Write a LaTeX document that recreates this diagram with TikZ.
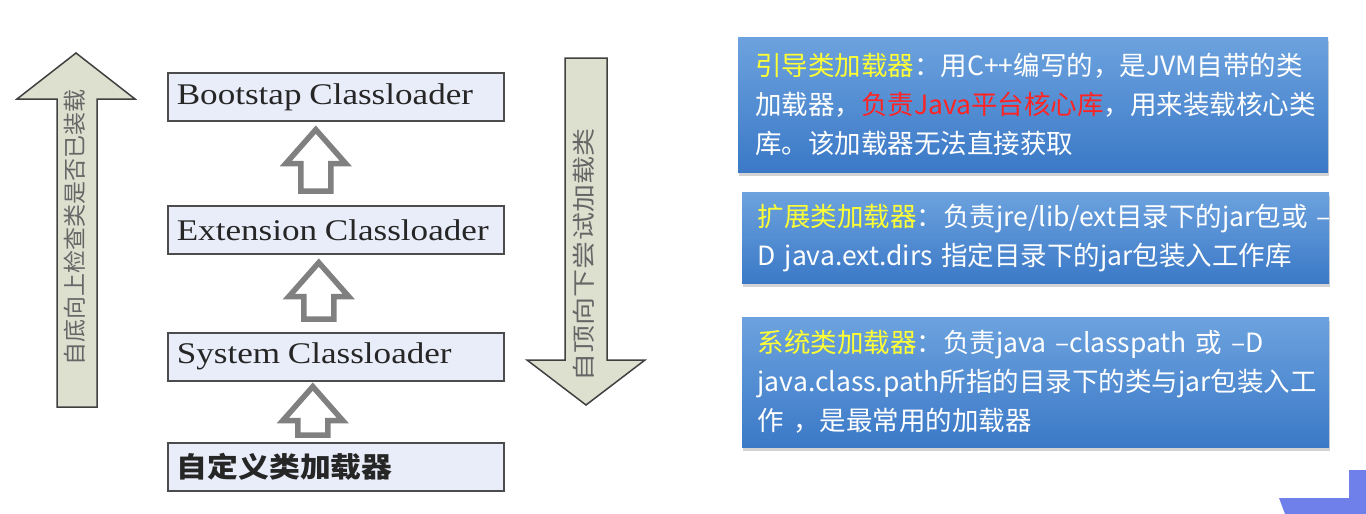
\documentclass[tikz,border=0pt]{standalone}
\usepackage{fontspec}
\setmainfont{Liberation Serif}
\newfontfamily\cjk{Noto Sans CJK SC}
\usetikzlibrary{calc,shadows}

\definecolor{olivefill}{HTML}{DDE0CF}
\definecolor{boxfill}{HTML}{E9EDF9}
\definecolor{blueTop}{HTML}{6CA2DE}
\definecolor{blueBot}{HTML}{3B79C7}
\definecolor{headYellow}{HTML}{FFFF33}
\definecolor{hotRed}{HTML}{FF2424}
\definecolor{cornerBlue}{HTML}{6F80EA}

\tikzset{
  loader/.style={draw=black!70, line width=1.6pt, fill=boxfill, anchor=north west,
    minimum width=336pt, minimum height=48pt, inner xsep=8pt, inner ysep=0pt,
    text width=318pt, align=left, text=black!85},
  hollow/.style={draw=gray, line width=5.5pt, fill=white, line join=miter},
  bigarrow/.style={draw=black!75, line width=1.5pt, fill=olivefill},
  sidetext/.style={font=\cjk\fontsize{23}{23}\selectfont, text=black!60, rotate=90},
  infobox/.style={top color=blueTop, bottom color=blueBot, anchor=north west,
    drop shadow={shadow xshift=1pt, shadow yshift=-4pt, opacity=0.35},
    minimum width=590pt, inner xsep=17pt, inner ysep=0pt, text width=556pt,
    align=left, text=white, font=\cjk\fontsize{26.5}{39}\selectfont}
}

% hollow arrow from the lower box up to the upper box
\newcommand{\loadarrow}[5]{%
  \draw[hollow] let \p1=($(#1.north)+(#3,0)$), \p2=(#2.south) in
    (\x1-15pt,\y1+#4) -- (\x1-15pt,\y2-#5-34pt) -- (\x1-30pt,\y2-#5-34pt)
    -- (\x1,\y2-#5) -- (\x1+30pt,\y2-#5-34pt) -- (\x1+15pt,\y2-#5-34pt)
    -- (\x1+15pt,\y1+#4) -- cycle;
}
\newcommand{\serifname}[2]{\fontsize{30}{30}\selectfont\scalebox{1.17}[1]{#1\hspace{0.22em}#2}}

\begin{document}
\begin{tikzpicture}[x=1pt,y=-1pt]
  \useasboundingbox (0,0) rectangle (1366,514);

  % left arrow: bottom to top
  \draw[bigarrow] (57,407) -- (57,99) -- (17,99) -- (76,53) -- (135,99)
    -- (97,99) -- (97,407) -- cycle;
  \node[sidetext] (upText) at (75,227) {自底向上检查类是否已装载};

  % right arrow: top to bottom
  \draw[bigarrow] (565,58) -- (607,58) -- (607,360) -- (645,360) -- (586,405)
    -- (527,360) -- (565,360) -- cycle;
  \node[sidetext] (downText) at (584,255) {\scalebox{1.22}[1]{自顶向下尝试加载类}};

  % class loaders
  \node[loader] (boot) at (167,72) {\serifname{Bootstap}{Classloader}};
  \node[loader] (ext) at (167,205) {\serifname{Extension}{Classloader}};
  \node[loader] (sys) at (167,332) {\serifname{System}{Classloader}};
  \node[loader] (custom) at (167,442)
    {\cjk\bfseries\fontsize{28}{28}\selectfont\scalebox{1.1}[1]{自定义类加载器}};

  \loadarrow{ext}{boot}{-20}{14pt}{8pt}
  \loadarrow{sys}{ext}{-17}{13pt}{8pt}
  \loadarrow{custom}{sys}{-23}{7pt}{5pt}

  % descriptions
  \node[infobox, minimum height=135pt] (bootInfo) at (738,37)
    {{\color{headYellow}引导类加载器}：用C++编写的，是JVM自带的类\\
     加载器，{\color{hotRed}负责Java平台核心库}，用来装载核心类\\
     库。该加载器无法直接获取};
  \node[infobox, minimum height=91pt, minimum width=587pt, inner xsep=15.5pt] (extInfo) at (742,192)
    {\mbox{{\color{headYellow}扩展类加载器}：负责jre/lib/ext目录下的jar包或 –}\\
     D java.ext.dirs 指定目录下的jar包装入工作库};
  \node[infobox, minimum height=130pt, minimum width=587pt, inner xsep=15.5pt] (sysInfo) at (742,317)
    {{\color{headYellow}系统类加载器}：负责java –classpath 或 –D\\
     \mbox{java.class.path所指的目录下的类与jar包装入工}\\
     作 ，是最常用的加载器};

  % corner
  \fill[cornerBlue] (1279,498) -- (1349,498) -- (1349,470) -- (1366,470)
    -- (1366,514) -- (1285,514) -- cycle;
\end{tikzpicture}
\end{document}
